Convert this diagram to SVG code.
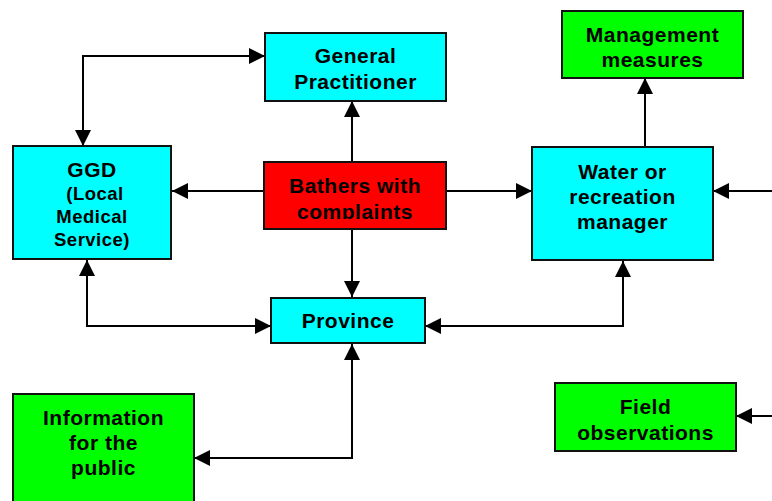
<svg xmlns="http://www.w3.org/2000/svg" width="772" height="501" viewBox="0 0 772 501">
<style>
.box{stroke:#111;stroke-width:2}
.cyan{fill:#00FFFF}.red{fill:#FF0000}.green{fill:#00FF00}
text{font-family:"Liberation Sans",Arial,sans-serif;font-weight:bold;font-size:21px;fill:#000;text-anchor:middle;letter-spacing:0.5px}
.sm{font-size:18.5px}
.c{fill:none;stroke:#000;stroke-width:2}
</style>
<defs>
<marker id="ah" markerUnits="userSpaceOnUse" markerWidth="16" markerHeight="16" refX="14" refY="7" orient="auto-start-reverse" viewBox="0 0 14 14">
<path d="M0,0 L14,7 L0,14 z" fill="#000"/>
</marker>
<clipPath id="bclip"><rect x="264" y="161" width="183" height="58"/></clipPath>
</defs>
<g id="connectors">
<path class="c" d="M83,146 V56 H265" marker-start="url(#ah)" marker-end="url(#ah)"/>
<path class="c" d="M352,162 V101" marker-end="url(#ah)"/>
<path class="c" d="M264,191 H172" marker-end="url(#ah)"/>
<path class="c" d="M446,191 H532" marker-end="url(#ah)"/>
<path class="c" d="M352,229 V297" marker-end="url(#ah)"/>
<path class="c" d="M87,260 V326 H271" marker-start="url(#ah)" marker-end="url(#ah)"/>
<path class="c" d="M425,326 H623 V261" marker-start="url(#ah)" marker-end="url(#ah)"/>
<path class="c" d="M352,344 V458 H194" marker-start="url(#ah)" marker-end="url(#ah)"/>
<path class="c" d="M645,147 V78" marker-end="url(#ah)"/>
<path class="c" d="M772,191 H713" marker-end="url(#ah)"/>
<path class="c" d="M772,416 H736" marker-end="url(#ah)"/>
</g>
<g id="gp">
<rect class="box cyan" x="265" y="33" width="181" height="68"/>
<text x="355.5" y="63">General</text>
<text x="355.5" y="89">Practitioner</text>
</g>
<g id="mgmt">
<rect class="box green" x="562" y="11" width="181" height="67"/>
<text x="652.5" y="42">Management</text>
<text x="652.5" y="67">measures</text>
</g>
<g id="ggd">
<rect class="box cyan" x="13" y="146" width="158" height="113"/>
<text x="92" y="177">GGD</text>
<text class="sm" x="95" y="200">(Local</text>
<text class="sm" x="92" y="223">Medical</text>
<text class="sm" x="92" y="246">Service)</text>
</g>
<g id="bathers">
<rect class="box red" x="264" y="162" width="182" height="67"/>
<g clip-path="url(#bclip)">
<text x="355" y="193">Bathers with</text>
<text x="355" y="218.5">complaints</text>
</g>
</g>
<g id="water">
<rect class="box cyan" x="532" y="147" width="181" height="113"/>
<text x="622.5" y="179">Water or</text>
<text x="622.5" y="204">recreation</text>
<text x="622.5" y="229">manager</text>
</g>
<g id="province">
<rect class="box cyan" x="271" y="298" width="154" height="45"/>
<text x="348" y="328">Province</text>
</g>
<g id="info">
<rect class="box green" x="13" y="394" width="181" height="120"/>
<text x="103.5" y="425">Information</text>
<text x="103.5" y="450">for the</text>
<text x="103.5" y="475">public</text>
</g>
<g id="field">
<rect class="box green" x="555" y="383" width="181" height="68"/>
<text x="645.5" y="414">Field</text>
<text x="645.5" y="440">observations</text>
</g>
</svg>
